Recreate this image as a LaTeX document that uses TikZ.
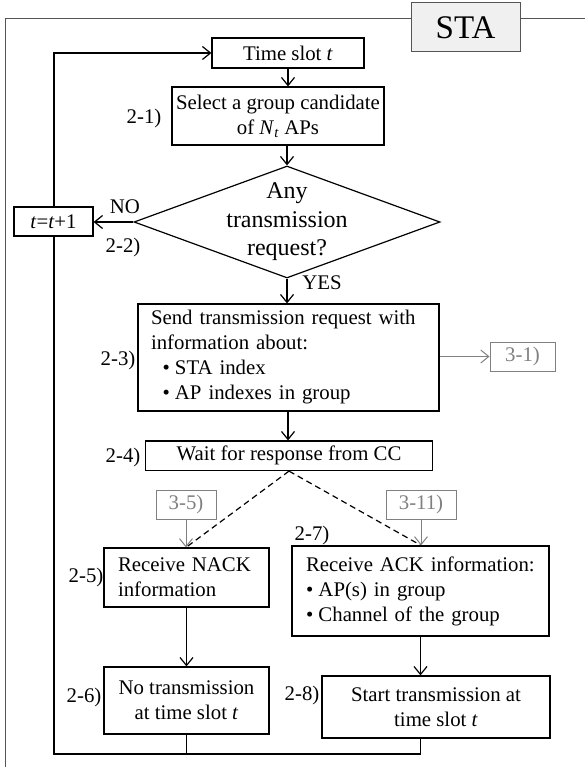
\documentclass[tikz,border=0pt]{standalone}
\usepackage{fontspec}
\setmainfont{Liberation Serif}
\usetikzlibrary{arrows.meta,shapes.geometric}
\newcommand\myfs{\fontsize{20.8}{25}\selectfont}
\newcommand\myds{\fontsize{24}{28.5}\selectfont}
\definecolor{framegray}{HTML}{555555}
\definecolor{lgray}{HTML}{808080}
\tikzset{
  box/.style={draw=black, line width=1.2pt, fill=white, inner sep=0pt, align=center, font=\myfs},
  gbox/.style={draw=lgray, line width=1pt, fill=white, inner sep=0pt, align=center, font=\myfs, text=lgray},
  lbl/.style={inner sep=0pt, font=\myfs},
  arr/.style={line width=1.2pt, -{Straight Barb[length=8pt,width=13pt,line width=1.2pt]}},
  garr/.style={draw=lgray, line width=1pt, -{Straight Barb[length=8pt,width=13pt,line width=1pt]}},
  ln/.style={line width=1.2pt},
}
\begin{document}
\begin{tikzpicture}[x=1pt,y=-1pt]
\useasboundingbox (0,0) rectangle (585,767);
% frame
\coordinate (fbl) at (5,767);
\coordinate (ftl) at (5,19);
\coordinate (ftr) at (585,19);
\draw[framegray, line width=1pt] (fbl) -- (ftl) -- (ftr);
\node[draw=framegray, line width=1pt, fill=gray!12, inner sep=0pt, minimum width=109pt, minimum height=49pt, font=\fontsize{33}{36}\selectfont] (sta) at (465.5,27.5) {STA};

% main column
\node[box, minimum width=152pt, minimum height=30pt] (ts) at (288,53) {Time slot \textit{t}};
\node[box, minimum width=212pt, minimum height=58pt] (sel) at (278,116) {Select a group candidate\\of \textit{N}\textsubscript{\textit{t}} APs};
\node[draw=black, line width=1.2pt, diamond, minimum width=306pt, minimum height=112pt, inner sep=0pt] (dia) at (287,222) {};
\node[inner sep=0pt, align=center, font=\myds] (diat) at (287,222) {Any\\transmission\\request?};
\node[box, minimum width=301pt, minimum height=107pt, text width=275pt, align=left] (send) at (288.5,357.5) {Send transmission request with\\information about:\\\hspace*{24pt}\llap{•\hspace{0.25em}}STA index\\\hspace*{24pt}\llap{•\hspace{0.25em}}AP indexes in group};
\node[gbox, minimum width=65pt, minimum height=29pt] (g31) at (522.5,356.5) {3-1)};
\node[box, minimum width=287.5pt, minimum height=29.5pt] (wait) at (289,455.75) {Wait for response from CC};
\node[gbox, minimum width=60pt, minimum height=29pt] (g35) at (186,504.5) {3-5)};
\node[gbox, minimum width=70pt, minimum height=29pt] (g311) at (421,504.5) {3-11)};
\node[box, minimum width=165pt, minimum height=59pt, text width=137pt, align=left] (nack) at (186.5,577.5) {Receive NACK\\information};
\node[box, minimum width=257pt, minimum height=90pt, text width=229pt, align=left] (ack) at (420.5,591) {Receive ACK information:\\•\hspace{0.25em}AP(s) in group\\•\hspace{0.25em}Channel of the group};
\node[box, minimum width=165pt, minimum height=67pt] (notx) at (186.5,700.5) {No transmission\\at time slot \textit{t}};
\node[box, minimum width=228pt, minimum height=62pt] (start) at (436,707) {Start transmission at\\time slot \textit{t}};

% labels
\node[lbl] (l21) at (144,118) {2-1)};
\node[lbl] (lno) at (125,207) {NO};
\node[lbl] (l22) at (123,247) {2-2)};
\node[lbl] (lyes) at (322,283) {YES};
\node[lbl] (l23) at (118,360) {2-3)};
\node[lbl] (l24) at (123,457) {2-4)};
\node[lbl] (l25) at (86,577) {2-5)};
\node[lbl] (l26) at (84,697) {2-6)};
\node[lbl] (l27) at (312,535) {2-7)};
\node[lbl] (l28) at (302,695) {2-8)};

% connectors
\draw[arr] (ts.south -| 288,0) -- (sel.north -| 288,0);
\draw[arr] (sel.south -| dia.north) -- (dia.north);
\draw[arr] (dia.south) -- (send.north -| dia.south);
\draw[garr] (send.east |- g31.west) -- (g31.west);
\draw[arr] (send.south -| 288,0) -- (wait.north -| 288,0);
\coordinate (wb) at (wait.south);
\coordinate (nacktop) at (g35.south |- nack.north);
\coordinate (acktop) at (g311.south |- ack.north);
\draw[ln, dash pattern=on 6pt off 4pt] (wb) -- (nacktop);
\draw[ln, dash pattern=on 6pt off 4pt] (wb) -- (acktop);
\draw[garr] (g35.south) -- (nacktop);
\draw[garr] (g311.south) -- (acktop);
\draw[arr] (nack.south) -- (notx.north);
\draw[arr] (ack.south) -- (ack.south |- start.north);
\coordinate (bl) at (54,754);
\coordinate (tl) at (54,53);
\draw[ln] (notx.south) -- (notx.south |- bl);
\draw[ln] (ack.south |- start.south) -- (ack.south |- bl);
\draw[arr] (ack.south |- bl) -- (bl) -- (tl) -- (ts.west);
% increment box drawn over the loop line
\node[box, minimum width=79pt, minimum height=29pt] (inc) at (53.5,221.5) {\textit{t}=\textit{t}+1};
\draw[arr] (dia.west) -- (inc.east |- dia.west);
\end{tikzpicture}
\end{document}
